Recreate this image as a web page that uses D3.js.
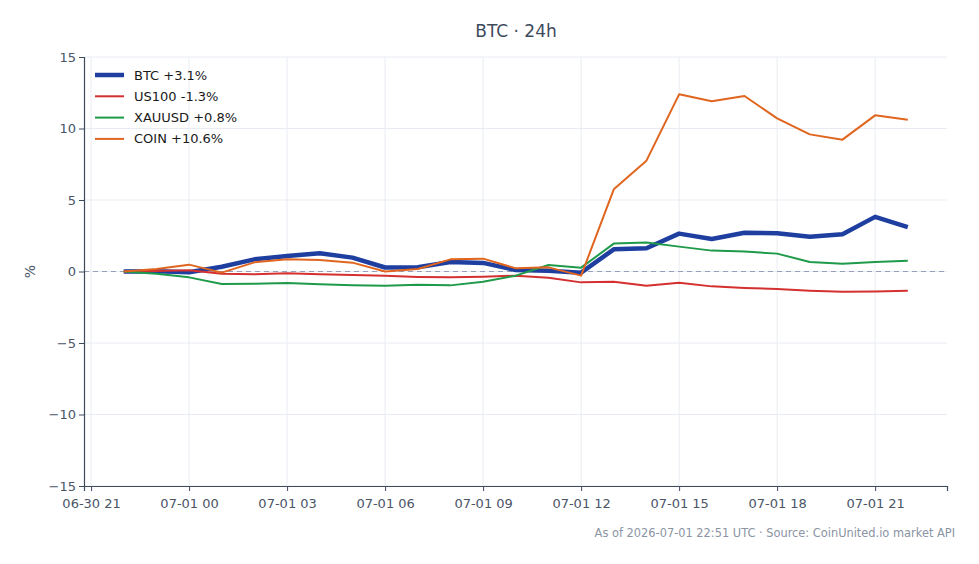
<!DOCTYPE html>
<html>
<head>
<meta charset="utf-8">
<script src="https://cdn.jsdelivr.net/npm/d3@7"></script>
<style>
  body { margin: 0; background: #fff; }
  svg { font-family: "DejaVu Sans", sans-serif; }
</style>
</head>
<body>
<svg id="chart"></svg>
<script>
// hourly points, 06-30 22:00 .. 07-01 22:00 UTC
const hours = d3.range(25).map(i => new Date(Date.UTC(2026, 5, 30, 22 + i)));

const btc   = [0.0, 0.02, -0.05, 0.33, 0.85, 1.08, 1.27, 0.97, 0.28, 0.3, 0.66, 0.6, 0.1, 0.06, -0.08, 1.55, 1.63, 2.65, 2.27, 2.71, 2.67, 2.43, 2.61, 3.82, 3.1];
const us100 = [0.0, 0.03, 0.08, -0.15, -0.2, -0.13, -0.2, -0.25, -0.3, -0.38, -0.41, -0.36, -0.29, -0.43, -0.76, -0.71, -1.0, -0.78, -1.04, -1.15, -1.22, -1.34, -1.41, -1.39, -1.34];
const xauusd = [0.0, -0.15, -0.41, -0.87, -0.85, -0.8, -0.9, -0.97, -0.99, -0.92, -0.97, -0.71, -0.29, 0.45, 0.27, 1.95, 2.02, 1.74, 1.46, 1.39, 1.25, 0.66, 0.55, 0.66, 0.76];
const coin  = [0.0, 0.17, 0.48, -0.08, 0.64, 0.85, 0.8, 0.62, 0.0, 0.17, 0.85, 0.9, 0.22, 0.29, -0.29, 5.75, 7.75, 12.39, 11.9, 12.27, 10.71, 9.59, 9.22, 10.92, 10.62];

const seriesNames = ["BTC +3.1%", "US100 -1.3%", "XAUUSD +0.8%", "COIN +10.6%"];
const seriesValues = [btc, us100, xauusd, coin];
const seriesColors = ["#1f3fa0", "#d3302f", "#1f9a4a", "#e0651f"];
const seriesWidths = [4.5, 2, 2, 2];

const yTicks = [-15, -10, -5, 0, 5, 10, 15];
const xTicks = d3.range(9).map(i => new Date(Date.UTC(2026, 5, 30, 21 + 3 * i)));

const w = 979, h = 564;
const margin = { left: 84, right: 32, top: 57, bottom: 78 };

const svg = d3.select("#chart").attr("width", w).attr("height", h);

const xScale = d3.scaleUtc()
  .domain([new Date(Date.UTC(2026, 5, 30, 20, 47)), new Date(Date.UTC(2026, 6, 1, 23, 12))])
  .range([margin.left, w - margin.right]);

const yScale = d3.scaleLinear()
  .domain([-15, 15])
  .range([h - margin.bottom, margin.top]);

const fmt = d3.utcFormat("%m-%d %H");

// grid
svg.append("g")
  .selectAll("line.gx")
  .data(xTicks)
  .enter()
  .append("line")
  .attr("x1", d => xScale(d)).attr("x2", d => xScale(d))
  .attr("y1", margin.top).attr("y2", h - margin.bottom)
  .attr("stroke", "#e8ecf2").attr("stroke-width", 1);

svg.append("g")
  .selectAll("line.gy")
  .data(yTicks)
  .enter()
  .append("line")
  .attr("x1", margin.left).attr("x2", w - margin.right)
  .attr("y1", d => yScale(d)).attr("y2", d => yScale(d))
  .attr("stroke", "#e8ecf2").attr("stroke-width", 1);

// zero line
svg.append("line")
  .attr("x1", margin.left).attr("x2", w - margin.right)
  .attr("y1", yScale(0)).attr("y2", yScale(0))
  .attr("stroke", "#97a0b8").attr("stroke-width", 1.2)
  .attr("stroke-dasharray", "5,4");

// axes
const xAxis = svg.append("g")
  .attr("transform", `translate(0, ${h - margin.bottom})`)
  .call(d3.axisBottom(xScale).tickValues(xTicks).tickFormat(fmt).tickSizeOuter(0).tickSize(5));

const yAxis = svg.append("g")
  .attr("transform", `translate(${margin.left}, 0)`)
  .call(d3.axisLeft(yScale).tickValues(yTicks).tickFormat(d => d < 0 ? "\u2212" + Math.abs(d) : d).tickSizeOuter(0).tickSize(5));

[xAxis, yAxis].forEach(a => {
  a.select(".domain").attr("stroke", "#3d4a5c").attr("stroke-width", 1.2);
  a.selectAll(".tick line").attr("stroke", "#3d4a5c");
  a.selectAll(".tick text").attr("fill", "#4a5568").attr("font-size", 13).attr("font-family", "DejaVu Sans, sans-serif");
});
xAxis.selectAll(".tick text").attr("dy", "1.05em");

// lines
const line = d3.line()
  .x((d, i) => xScale(hours[i]))
  .y(d => yScale(d));

seriesValues.forEach((vals, k) => {
  svg.append("path")
    .datum(vals)
    .attr("fill", "none")
    .attr("stroke", seriesColors[k])
    .attr("stroke-width", seriesWidths[k])
    .attr("stroke-linejoin", "round")
    .attr("d", line);
});

// legend
const legend = svg.append("g").attr("transform", "translate(95, 75)");
seriesNames.forEach((name, k) => {
  const g = legend.append("g").attr("transform", `translate(0, ${k * 21.3})`);
  g.append("line")
    .attr("x1", 0).attr("x2", 29)
    .attr("stroke", seriesColors[k]).attr("stroke-width", seriesWidths[k]);
  g.append("text")
    .attr("x", 39).attr("y", 4.5)
    .attr("font-size", 13).attr("fill", "#1a1a1a")
    .text(name);
});

// title
svg.append("text")
  .attr("x", 516).attr("y", 37)
  .attr("text-anchor", "middle")
  .attr("font-size", 17).attr("fill", "#3d4a5c")
  .text("BTC \u00b7 24h");

// y label
svg.append("text")
  .attr("transform", `translate(35, ${yScale(0)}) rotate(-90)`)
  .attr("text-anchor", "middle")
  .attr("font-size", 14).attr("fill", "#4a5568")
  .text("%");

// footer
svg.append("text")
  .attr("x", 955).attr("y", 537)
  .attr("text-anchor", "end")
  .attr("font-size", 11.4).attr("fill", "#8a94a3")
  .text("As of 2026-07-01 22:51 UTC \u00b7 Source: CoinUnited.io market API");
</script>
</body>
</html>
